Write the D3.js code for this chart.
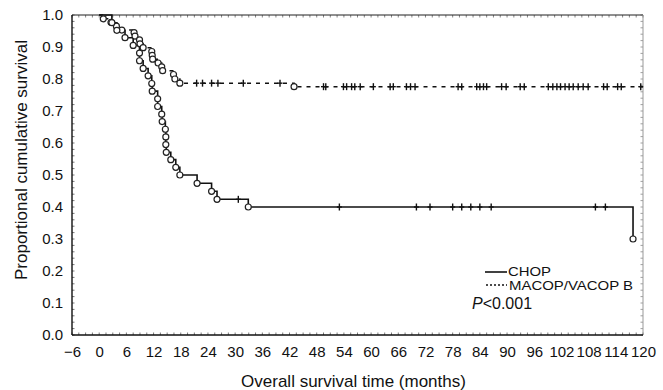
<!DOCTYPE html>
<html>
<head>
<meta charset="utf-8">
<script src="https://cdn.jsdelivr.net/npm/d3@7"></script>
<style>
  body { margin: 0; background: #fff; }
  text { font-family: "Liberation Sans", Arial, sans-serif; fill: #111; }
</style>
</head>
<body>
<div id="chart"></div>
<script>
// CHOP arm: event times (months) and survival after each event
const chopTimes = [2.8, 3.9, 5.7, 7.5, 8.9, 8.9, 9.7, 10.8, 11.6, 11.7, 12.9, 12.9, 13.8, 13.9, 14.6, 14.7, 14.7, 14.8, 15.8, 16.9, 17.8, 21.6, 24.8, 26.0, 32.9, 117.8]
const chopSurv = [0.976, 0.952, 0.929, 0.905, 0.881, 0.857, 0.833, 0.810, 0.786, 0.762, 0.738, 0.714, 0.690, 0.667, 0.643, 0.619, 0.595, 0.571, 0.548, 0.524, 0.500, 0.474, 0.449, 0.424, 0.400, 0.300]
const chopCensored = [30.7, 53, 70, 73, 78, 80, 82, 84, 86.5, 109.5, 111.7]

// MACOP/VACOP B arm
const macopTimes = [0.9, 2.6, 3.8, 5.0, 7.7, 7.9, 8.9, 9.0, 9.7, 11.6, 11.7, 11.8, 13.0, 13.8, 14.0, 16.4, 16.7, 17.8, 43]
const macopSurv = [0.988, 0.977, 0.965, 0.953, 0.945, 0.934, 0.922, 0.910, 0.898, 0.886, 0.874, 0.862, 0.850, 0.838, 0.826, 0.814, 0.800, 0.787, 0.776]
const macopCensored = [21.5, 22.8, 24.8, 26.2, 31.8, 39.9, 49.5, 50, 53.9, 54.6, 55.7, 56.4, 57.6, 60.5, 64.2, 64.9, 67.8, 68.7, 69.7,
  79.2, 80, 83.3, 84, 84.8, 85.5, 88.8, 89.8, 92.9, 93.8, 99.1, 100.1, 101, 101.8, 102.8, 103.7, 104.6, 105.7, 106.8, 107.9,
  111.3, 112.1, 114.4, 115.2, 119.5]

const xTicks = d3.range(-6, 121, 6)
const yTicks = d3.range(0, 1.01, 0.1)

const W = 663, H = 390
const margin = { top: 15, right: 20, bottom: 55, left: 72 }
const width = W - margin.left - margin.right
const height = H - margin.top - margin.bottom

const svg = d3.select('#chart').append('svg')
  .attr('width', W).attr('height', H)

const g = svg.append('g').attr('transform', `translate(${margin.left},${margin.top})`)

const x = d3.scaleLinear().domain([-6, 120]).range([0, width])
const y = d3.scaleLinear().domain([0, 1]).range([height, 0])

// minor ticks inside the frame
g.append('g').selectAll('line').data(d3.range(0, 1.001, 0.02)).join('line')
  .attr('x1', 0).attr('x2', 2.5).attr('y1', d => y(d)).attr('y2', d => y(d))
  .attr('stroke', '#555').attr('stroke-width', 0.8)
g.append('g').selectAll('line').data(d3.range(0, 1.001, 0.02)).join('line')
  .attr('x1', width).attr('x2', width - 2.5).attr('y1', d => y(d)).attr('y2', d => y(d))
  .attr('stroke', '#888').attr('stroke-width', 0.8)
g.append('g').selectAll('line').data(d3.range(-6, 120.1, 1.5)).join('line')
  .attr('x1', d => x(d)).attr('x2', d => x(d)).attr('y1', height).attr('y2', height - 2.5)
  .attr('stroke', '#555').attr('stroke-width', 0.8)
g.append('g').selectAll('line').data(d3.range(-6, 120.1, 1.5)).join('line')
  .attr('x1', d => x(d)).attr('x2', d => x(d)).attr('y1', 0).attr('y2', 2.5)
  .attr('stroke', '#666').attr('stroke-width', 0.8)

// frame
g.append('line').attr('x1', 0).attr('x2', width).attr('y1', 0).attr('y2', 0).attr('stroke', '#222').attr('stroke-width', 1.2)
g.append('line').attr('x1', width).attr('x2', width).attr('y1', 0).attr('y2', height).attr('stroke', '#999').attr('stroke-width', 1)
g.append('line').attr('x1', 0).attr('x2', width).attr('y1', height).attr('y2', height).attr('stroke', '#111').attr('stroke-width', 1.4)
g.append('line').attr('x1', 0).attr('x2', 0).attr('y1', 0).attr('y2', height).attr('stroke', '#111').attr('stroke-width', 1.4)

// axes labels
const xAxis = d3.axisBottom(x).tickValues(xTicks).tickSize(0).tickPadding(11)
g.append('g').attr('transform', `translate(0,${height})`).call(xAxis)
  .call(a => a.select('.domain').remove())
  .selectAll('text').attr('font-size', 15).attr('font-family', '"Liberation Sans", Arial, sans-serif').attr('fill', '#111')

const yAxis = d3.axisLeft(y).tickValues(yTicks).tickFormat(d3.format('.1f')).tickSize(0).tickPadding(9)
g.append('g').call(yAxis)
  .call(a => a.select('.domain').remove())
  .selectAll('text').attr('font-size', 15).attr('font-family', '"Liberation Sans", Arial, sans-serif').attr('fill', '#111')

svg.append('text').attr('x', margin.left + width / 2 - 4).attr('y', 387)
  .attr('text-anchor', 'middle').attr('font-size', 17).text('Overall survival time (months)')
svg.append('text').attr('transform', `translate(27,${margin.top + height / 2 - 15}) rotate(-90)`)
  .attr('text-anchor', 'middle').attr('font-size', 17).text('Proportional cumulative survival')

// survival step curves
function stepPoints(times, surv, end) {
  const pts = [[0, 1]]
  times.forEach((t, i) => pts.push([t, surv[i]]))
  if (end != null) pts.push([end, surv[surv.length - 1]])
  return pts
}
function survAt(times, surv, t) {
  let s = 1
  times.forEach((tt, i) => { if (tt <= t) s = surv[i] })
  return s
}

const line = d3.line().x(d => x(d[0])).y(d => y(d[1])).curve(d3.curveStepAfter)

g.append('path').datum(stepPoints(macopTimes, macopSurv, 120))
  .attr('d', line).attr('fill', 'none').attr('stroke', '#111').attr('stroke-width', 1.5)
  .attr('stroke-dasharray', '4,5')

g.append('path').datum(stepPoints(chopTimes, chopSurv, null))
  .attr('d', line).attr('fill', 'none').attr('stroke', '#111').attr('stroke-width', 1.6)

function censorMarks(times, evT, evS) {
  const m = g.append('g')
  times.forEach(t => {
    const cx = x(t), cy = y(survAt(evT, evS, t))
    m.append('line').attr('x1', cx).attr('x2', cx).attr('y1', cy - 3.5).attr('y2', cy + 3.5)
      .attr('stroke', '#111').attr('stroke-width', 1.4)
    m.append('line').attr('x1', cx - 2.5).attr('x2', cx + 2.5).attr('y1', cy).attr('y2', cy)
      .attr('stroke', '#111').attr('stroke-width', 1.4)
  })
}
censorMarks(macopCensored, macopTimes, macopSurv)
censorMarks(chopCensored, chopTimes, chopSurv)

function eventCircles(times, surv) {
  g.append('g').selectAll('circle').data(times).join('circle')
    .attr('cx', d => x(d)).attr('cy', (d, i) => y(surv[i])).attr('r', 3)
    .attr('fill', '#fff').attr('stroke', '#222').attr('stroke-width', 1.2)
}
eventCircles(macopTimes, macopSurv)
eventCircles(chopTimes, chopSurv)

// legend
const lg = svg.append('g')
lg.append('line').attr('x1', 485).attr('x2', 507).attr('y1', 272).attr('y2', 272).attr('stroke', '#111').attr('stroke-width', 1.6)
lg.append('text').attr('x', 508).attr('y', 276).attr('font-size', 12)
  .attr('textLength', 43).attr('lengthAdjust', 'spacingAndGlyphs').text('CHOP')
lg.append('line').attr('x1', 486).attr('x2', 507).attr('y1', 285).attr('y2', 285).attr('stroke', '#111').attr('stroke-width', 1.5).attr('stroke-dasharray', '2,2')
lg.append('text').attr('x', 509).attr('y', 289.5).attr('font-size', 12)
  .attr('textLength', 124).attr('lengthAdjust', 'spacingAndGlyphs').text('MACOP/VACOP B')
const pt = lg.append('text').attr('x', 472).attr('y', 308.5).attr('font-size', 16)
pt.append('tspan').attr('font-style', 'italic').text('P')
pt.append('tspan').text('<0.001')
</script>
</body>
</html>
